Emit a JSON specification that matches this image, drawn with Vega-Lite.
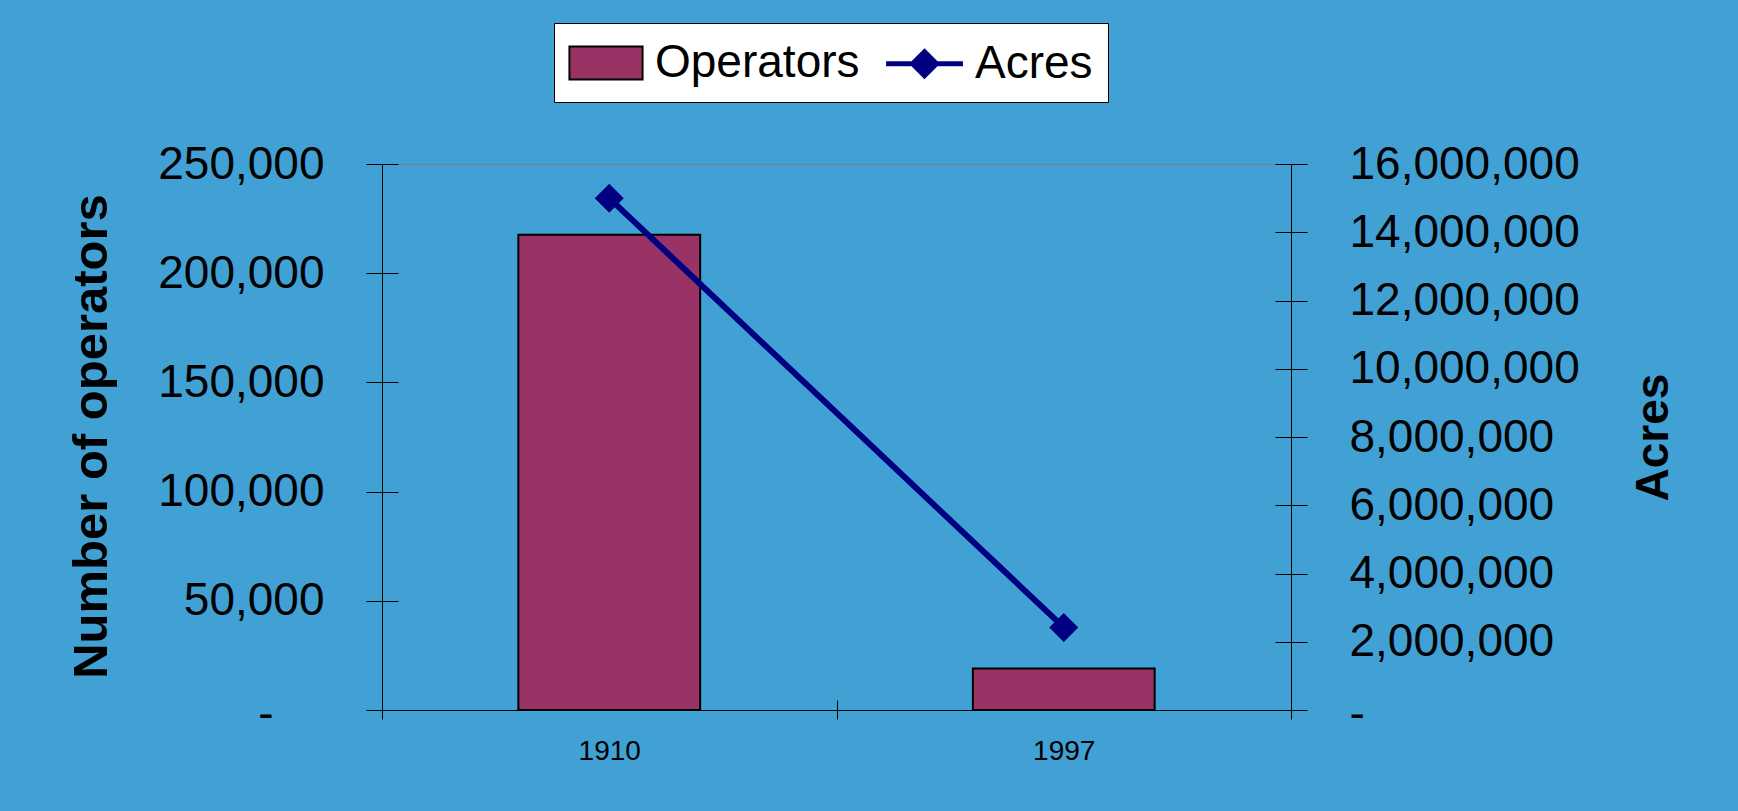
{
  "$schema": "https://vega.github.io/schema/vega-lite/v6.json",
  "width": 909,
  "height": 546,
  "autosize": {"type": "none"},
  "padding": {"left": 382, "top": 164, "right": 447, "bottom": 101},
  "background": "#41A1D5",
  "config": {"view": {"stroke": "#808080", "strokeWidth": 1}, "font": "Liberation Sans"},
  "data": {"values": [
    {"year": "1910", "Operators": 217600, "Acres": 15000000},
    {"year": "1997", "Operators": 19000, "Acres": 2420000}
  ]},
  "resolve": {"scale": {"x": "independent", "y": "independent"}},
  "layer": [
    {
      "mark": {"type": "bar", "width": {"band": 0.4}, "color": "#993366", "stroke": "black", "strokeWidth": 2},
      "encoding": {
        "x": {"field": "year", "type": "nominal",
          "scale": {"type": "band", "paddingInner": 0, "paddingOuter": 0},
          "axis": {"orient": "bottom", "title": null, "labelAngle": 0, "labelFont": "Liberation Sans", "labelFontSize": 28, "labelColor": "black", "labelPadding": 18, "tickBand": "extent", "tickSize": 9, "tickColor": "black", "domainColor": "black", "grid": false}},
        "y": {"field": "Operators", "type": "quantitative",
          "scale": {"domain": [0, 250000], "nice": false},
          "axis": {"orient": "left", "values": [0, 50000, 100000, 150000, 200000, 250000],
            "labelExpr": "datum.value === 0 ? '-' : format(datum.value, ',')",
            "labelFont": "Liberation Sans", "labelFontSize": 46, "labelColor": "black", "labelLimit": 400,
            "labelPadding": {"condition": {"test": "datum.value === 0", "value": 93}, "value": 42},
            "labelOffset": {"condition": {"test": "datum.value === 0", "value": 4}, "value": 0},
            "tickSize": 16, "tickColor": "black", "domainColor": "black", "grid": false,
            "title": "Number of operators", "titleFont": "Liberation Sans", "titleFontSize": 49, "titleFontWeight": "bold", "titleColor": "black", "titlePadding": 66, "titleY": 272}}
      }
    },
    {
      "transform": [{"fold": ["Operators", "Acres"], "as": ["series", "amount"]}],
      "mark": {"type": "point", "opacity": 0, "filled": true, "fill": {"expr": "datum.value === 'Operators' ? '#993366' : '#000080'"}},
      "encoding": {
        "x": {"field": "year", "type": "nominal",
          "scale": {"type": "band", "paddingInner": 0, "paddingOuter": 0},
          "axis": {"orient": "bottom", "title": null, "labels": false, "domain": false, "grid": false, "tickBand": "extent", "tickSize": -10, "tickColor": "black"}},
        "y": {"field": "Operators", "type": "quantitative",
          "scale": {"domain": [0, 250000], "nice": false},
          "axis": {"orient": "left", "values": [0, 50000, 100000, 150000, 200000, 250000], "labels": false, "domain": false, "grid": false, "title": null, "tickSize": -16, "tickColor": "black"}},
        "stroke": {"field": "series", "type": "nominal",
          "scale": {"domain": ["Operators", "Acres"], "range": ["black", "#000080"]},
          "legend": {"title": null, "orient": "none", "legendX": 172, "legendY": -141, "direction": "horizontal",
            "fillColor": "white", "strokeColor": "black", "padding": 15,
            "labelFont": "Liberation Sans", "labelFontSize": 46, "labelColor": "black", "labelLimit": 400,
            "labelOffset": 25, "columnPadding": 16, "symbolOffset": 13, "symbolSize": 2116, "symbolOpacity": 1}},
        "shape": {"field": "series", "type": "nominal",
          "scale": {"domain": ["Operators", "Acres"], "range": ["M-1.59,-0.72H1.59V0.72H-1.59Z", "M-1.67,0H1.67M0,-0.52L0.52,0L0,0.52L-0.52,0Z"]}},
        "strokeWidth": {"field": "series", "type": "ordinal",
          "scale": {"domain": ["Operators", "Acres"], "range": [2, 5]}}
      }
    },
    {
      "mark": {"type": "line", "color": "#000080", "strokeWidth": 6, "point": {"shape": "diamond", "size": 841, "filled": true, "color": "#000080"}},
      "encoding": {
        "x": {"field": "year", "type": "nominal",
          "scale": {"type": "band", "paddingInner": 0, "paddingOuter": 0},
          "axis": null},
        "y": {"field": "Acres", "type": "quantitative",
          "scale": {"domain": [0, 16000000], "nice": false},
          "axis": {"orient": "right", "values": [0, 2000000, 4000000, 6000000, 8000000, 10000000, 12000000, 14000000, 16000000],
            "labelExpr": "datum.value === 0 ? '-' : format(datum.value, ',')",
            "labelFont": "Liberation Sans", "labelFontSize": 46, "labelColor": "black", "labelPadding": 42, "labelLimit": 400,
            "labelOffset": {"condition": {"test": "datum.value === 0", "value": 4}, "value": 0},
            "tickSize": 16, "tickColor": "black", "domainColor": "black", "grid": false,
            "title": "Acres", "titleFont": "Liberation Sans", "titleFontSize": 46, "titleFontWeight": "bold", "titleColor": "black", "titleAngle": -90, "titleBaseline": "top", "titleX": 340}}
      }
    },
    {
      "mark": {"type": "point", "opacity": 0},
      "encoding": {
        "x": {"field": "year", "type": "nominal",
          "scale": {"type": "band", "paddingInner": 0, "paddingOuter": 0},
          "axis": null},
        "y": {"field": "Acres", "type": "quantitative",
          "scale": {"domain": [0, 16000000], "nice": false},
          "axis": {"orient": "right", "values": [0, 2000000, 4000000, 6000000, 8000000, 10000000, 12000000, 14000000, 16000000], "labels": false, "domain": false, "grid": false, "title": null, "tickSize": -16, "tickColor": "black"}}
      }
    }
  ]
}
